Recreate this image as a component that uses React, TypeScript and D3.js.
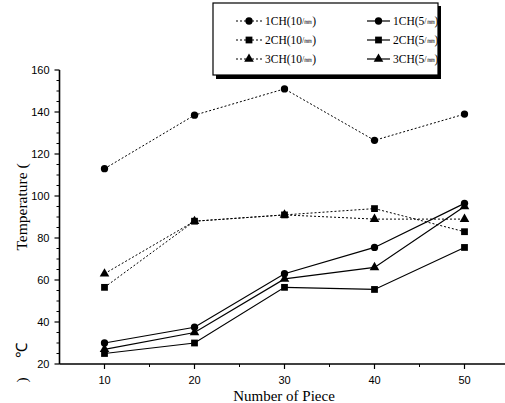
import React from 'react';
import * as d3 from 'd3';

const pieces = [10, 20, 30, 40, 50];
const ch1Fast = [113, 138.5, 151, 126.5, 139];
const ch2Fast = [56.5, 88, 91, 94, 83];
const ch3Fast = [63, 88, 91, 89, 89];
const ch1Slow = [30, 37.5, 63, 75.5, 96.5];
const ch2Slow = [25, 30, 56.5, 55.5, 75.5];
const ch3Slow = [27, 35, 60.5, 66, 95];
const yTicks = [20, 40, 60, 80, 100, 120, 140, 160];

const series = [
  { name: '1CH(10', unit: '/㎜', values: ch1Fast, marker: 'circle', dashed: true },
  { name: '1CH(5', unit: '/㎜', values: ch1Slow, marker: 'circle', dashed: false },
  { name: '2CH(10', unit: '/㎜', values: ch2Fast, marker: 'square', dashed: true },
  { name: '2CH(5', unit: '/㎜', values: ch2Slow, marker: 'square', dashed: false },
  { name: '3CH(10', unit: '/㎜', values: ch3Fast, marker: 'triangle', dashed: true },
  { name: '3CH(5', unit: '/㎜', values: ch3Slow, marker: 'triangle', dashed: false },
];

const W = 505;
const H = 403;

const x = d3.scaleLinear().domain([5, 55]).range([59.5, 509.5]);
const y = d3.scaleLinear().domain([20, 160]).range([364, 70]);

const symbolPath = (m: string) => {
  if (m === 'circle') return d3.symbol(d3.symbolCircle, 42)()!;
  if (m === 'square') return d3.symbol(d3.symbolSquare, 46)()!;
  return d3.symbol(d3.symbolTriangle, 40)()!;
};

const Marker = ({ m, cx, cy }: { m: string; cx: number; cy: number }) => (
  <path d={symbolPath(m)} transform={`translate(${cx},${cy})`} fill="#000" />
);

const App = () => {
  const line = d3.line<number>()
    .x((d, i) => x(pieces[i]))
    .y(d => y(d));

  const sans = 'Liberation Sans, Arial, sans-serif';
  const serif = 'Liberation Serif, Times New Roman, serif';

  const minorY = d3.range(25, 160, 5).filter(v => v % 20 !== 0);
  const minorX = [15, 25, 35, 45];

  return (
    <svg width={W} height={H} style={{ position: 'absolute', left: 0, top: 0, background: '#fff' }}>
      {/* axes */}
      <line x1={x(5)} x2={W} y1={y(20)} y2={y(20)} stroke="#000" strokeWidth={1.6} />
      <line x1={x(5)} x2={x(5)} y1={y(20)} y2={y(160)} stroke="#000" strokeWidth={1.6} />
      {yTicks.map(t => (
        <g key={t}>
          <line x1={x(5) - 5} x2={x(5)} y1={y(t)} y2={y(t)} stroke="#000" strokeWidth={1.2} />
          <text x={x(5) - 10} y={y(t) + 4} fontSize={11} fontFamily={sans} textAnchor="end">{t}</text>
        </g>
      ))}
      {minorY.map(t => (
        <line key={t} x1={x(5) - 3} x2={x(5)} y1={y(t)} y2={y(t)} stroke="#000" strokeWidth={1} />
      ))}
      {pieces.map(p => (
        <g key={p}>
          <line x1={x(p)} x2={x(p)} y1={y(20)} y2={y(20) + 5} stroke="#000" strokeWidth={1.2} />
          <text x={x(p)} y={384} fontSize={11} fontFamily={sans} textAnchor="middle">{p}</text>
        </g>
      ))}
      {minorX.map(p => (
        <line key={p} x1={x(p)} x2={x(p)} y1={y(20)} y2={y(20) + 3} stroke="#000" strokeWidth={1} />
      ))}
      <text x={284} y={401} fontSize={15} fontFamily={serif} textAnchor="middle">Number of Piece</text>
      <text transform="translate(27,207) rotate(-90)" fontSize={15.5} fontFamily={serif} textAnchor="middle">Temperature (</text>
      <text transform="translate(27,350) rotate(-90)" fontSize={15.5} fontFamily={serif} textAnchor="middle">℃</text>
      <text transform="translate(27,380) rotate(-90)" fontSize={15.5} fontFamily={serif} textAnchor="middle">)</text>

      {/* series */}
      {series.map(s => (
        <g key={s.name + s.dashed}>
          <path d={line(s.values)!} fill="none" stroke="#000"
            strokeWidth={s.dashed ? 1 : 1.2} strokeDasharray={s.dashed ? '2,2' : undefined} />
          {s.values.map((v, i) => (
            <Marker key={i} m={s.marker} cx={x(pieces[i])} cy={y(v)} />
          ))}
        </g>
      ))}

      {/* legend */}
      <rect x={216} y={6} width={225} height={73} fill="#000" />
      <rect x={213} y={3} width={225} height={72} fill="#fff" stroke="#000" strokeWidth={1.2} />
      {series.map((s, i) => {
        const col = i % 2;
        const row = Math.floor(i / 2);
        const lx = col === 0 ? 236 : 367;
        const lw = col === 0 ? 26 : 23;
        const ly = 21 + row * 19;
        return (
          <g key={'lg' + i}>
            <line x1={lx} x2={lx + lw} y1={ly} y2={ly} stroke="#000"
              strokeWidth={s.dashed ? 1 : 1.2} strokeDasharray={s.dashed ? '2,2' : undefined} />
            <Marker m={s.marker} cx={lx + lw / 2} cy={ly} />
            <text x={lx + lw + 3} y={ly + 4} fontSize={11.5} fontFamily={serif}>
              {s.name}
              <tspan fontSize={8} dy={-1}>{s.unit}</tspan>
              <tspan dy={1}>)</tspan>
            </text>
          </g>
        );
      })}
    </svg>
  );
};

export default App;
